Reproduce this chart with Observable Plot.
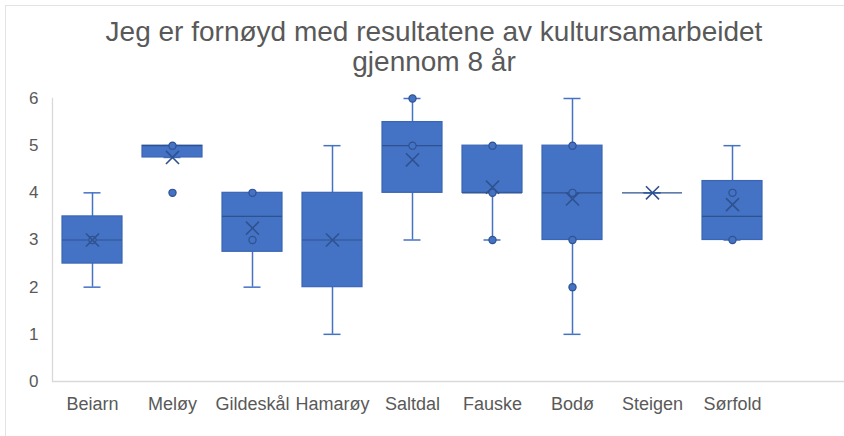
<!DOCTYPE html>
<html>
<head>
<meta charset="utf-8">
<script src="https://cdn.jsdelivr.net/npm/d3@7"></script>
<script src="https://cdn.jsdelivr.net/npm/@observablehq/plot@0.6"></script>
<style>
  html, body { margin: 0; padding: 0; background: #fff; }
  #wrap { position: relative; width: 844px; height: 436px; overflow: hidden; font-family: "Liberation Sans", Arial, sans-serif; }
  #border { position: absolute; left: 5px; top: 5px; width: 900px; height: 500px; border-top: 1px solid #e3e3e3; border-left: 1px solid #e3e3e3; }
  #title { position: absolute; left: 434px; top: 17px; transform: translateX(-50%); white-space: nowrap; text-align: center; font-size: 28px; line-height: 30px; color: #595959; }
  #chart { position: absolute; left: 0; top: 0; }
</style>
</head>
<body>
<div id="wrap">
  <div id="border"></div>
  <div id="chart"></div>
  <div id="title">Jeg er fornøyd med resultatene av kultursamarbeidet<br>gjennom 8 år</div>
</div>
<script>
const categories = ["Beiarn", "Meløy", "Gildeskål", "Hamarøy", "Saltdal", "Fauske", "Bodø", "Steigen", "Sørfold"];
const whiskerLow  = [2,    4.75, 2,    1, 3,   3,    1,    4, 3];
const q1          = [2.5,  4.75, 2.75, 2, 4,   4,    3,    4, 3];
const median      = [3,    5,    3.5,  3, 5,   4,    4,    4, 3.5];
const q3          = [3.5,  5,    4,    4, 5.5, 5,    5,    4, 4.25];
const whiskerHigh = [4,    5,    4,    5, 6,   5,    6,    4, 5];
const mean        = [3,    4.75, 3.25, 3, 4.7, 4.12, 3.87, 4, 3.75];
const pointCategory = ["Beiarn", "Meløy", "Meløy", "Gildeskål", "Gildeskål", "Saltdal", "Saltdal", "Fauske", "Fauske", "Fauske", "Bodø", "Bodø", "Bodø", "Bodø", "Sørfold", "Sørfold"];
const pointValue    = [3,        5,       4,       4,           3,           6,         5,         5,        4,        3,        5,      4,      3,      2,      4,         3];
const yTicks = [0, 1, 2, 3, 4, 5, 6];

const boxes = categories.map((c, i) => ({
  cat: c, low: whiskerLow[i], q1: q1[i], med: median[i], q3: q3[i], high: whiskerHigh[i], mean: mean[i]
}));
const points = pointCategory.map((c, i) => ({cat: c, v: pointValue[i]}));

const blue = "#4472c4";
const dark = "#2f528f";
const capInset = 21.5;

const chart = Plot.plot({
  width: 844,
  height: 436,
  marginLeft: 52,
  marginRight: 0,
  marginTop: 98,
  marginBottom: 55,
  style: { fontFamily: "'Liberation Sans', Arial, sans-serif", background: "transparent", overflow: "visible" },
  x: { domain: categories, range: [52, 772], paddingInner: 0.25, paddingOuter: 0.125, label: null },
  y: { domain: [0, 6], label: null },
  marks: [
    Plot.ruleY([0], { stroke: "#d9d9d9", strokeWidth: 1.3 }),
    Plot.frame({ anchor: "left", stroke: "#d9d9d9", strokeWidth: 1.3 }),
    Plot.axisY({ ticks: yTicks, tickFormat: d3.format("d"), tickSize: 0, tickPadding: 14, fontSize: 17, color: "#595959", label: null }),
    Plot.axisX({ tickSize: 0, tickPadding: 16, fontSize: 18, color: "#595959", label: null }),
    Plot.ruleX(boxes, { x: "cat", y1: "low", y2: "high", stroke: blue, strokeWidth: 1.5 }),
    Plot.tickY(boxes, { x: "cat", y: "low", stroke: blue, strokeWidth: 1.5, insetLeft: capInset, insetRight: capInset }),
    Plot.tickY(boxes, { x: "cat", y: "high", stroke: blue, strokeWidth: 1.5, insetLeft: capInset, insetRight: capInset }),
    Plot.barY(boxes, { x: "cat", y1: "q1", y2: "q3", fill: blue, stroke: "#3b66b5", strokeWidth: 1.2 }),
    Plot.tickY(boxes, { x: "cat", y: "med", stroke: dark, strokeWidth: 1.2 }),
    Plot.dot(points, { x: "cat", y: "v", r: 3.6, fill: blue, stroke: dark, strokeWidth: 1.2 }),
    Plot.dot(boxes, { x: "cat", y: "mean", symbol: "times", r: 6, stroke: dark, strokeWidth: 1.6 })
  ]
});
document.getElementById("chart").appendChild(chart);
</script>
</body>
</html>
